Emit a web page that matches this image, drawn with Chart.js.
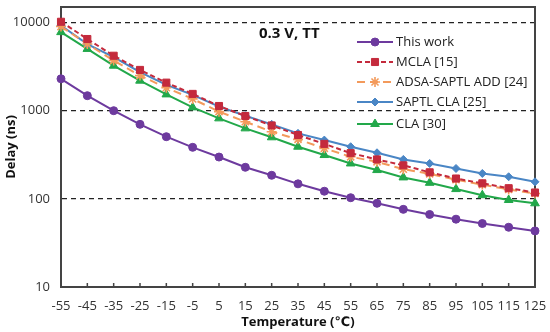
<!DOCTYPE html>
<html lang="en">
<head>
<meta charset="UTF-8">
<title>Delay vs Temperature</title>
<script src="https://cdn.jsdelivr.net/npm/chart.js"></script>
<style>
    html, body { margin: 0; padding: 0; background: #fff; }
    #wrap { width: 550px; height: 332px; }
</style>
</head>
<body>
<div id="wrap"><canvas id="delayChart" width="550" height="332"></canvas></div>
<script>
// temperature points (°C) and delay values (ns)
const temperatures = [-55, -45, -35, -25, -15, -5, 5, 15, 25, 35, 45, 55, 65, 75, 85, 95, 105, 115, 125];
const thisWork = [2300, 1480, 1000, 700, 507, 384, 298, 228, 185, 148, 122, 103, 89, 76, 66.5, 58.8, 52.5, 47.6, 43.3];
const mcla     = [10200, 6500, 4200, 2900, 2080, 1550, 1130, 870, 680, 530, 420, 330, 280, 240, 200, 170, 150, 132, 118];
const adsa     = [9000, 5700, 3700, 2500, 1820, 1360, 975, 750, 577, 473, 374, 300, 263, 217, 192, 165, 145, 128, 115];
const saptl    = [9250, 5690, 4050, 2730, 1960, 1510, 1110, 877, 700, 553, 464, 390, 333, 280, 252, 221, 194, 178, 156];
const cla      = [7780, 5020, 3240, 2190, 1530, 1090, 818, 630, 499, 390, 314, 252, 212, 175, 152, 129, 110, 97, 89];
const yTicks = [10, 100, 1000, 10000];
const chartTitle = '0.3 V, TT';

const FONT = "'Open Sans', 'DejaVu Sans', sans-serif";
const toPoints = arr => arr.map((v, i) => ({ x: temperatures[i], y: v }));

function series(label, values, color, style, radius, dash) {
    return {
        label: label,
        data: toPoints(values),
        borderColor: color,
        backgroundColor: color,
        borderWidth: 2,
        borderDash: dash,
        pointStyle: style,
        pointRadius: radius,
        pointBorderWidth: style === 'star' ? 1.6 : 1,
        pointBorderColor: color,
        pointBackgroundColor: color,
        tension: 0,
        clip: false
    };
}

const datasets = [
    series('This work', thisWork, '#6d3a9e', 'circle', 4, []),
    series('MCLA [15]', mcla, '#c42a3c', 'rect', 5, [5, 3]),
    series('ADSA-SAPTL ADD [24]', adsa, '#f39a5b', 'star', 5, [8, 5]),
    series('SAPTL CLA [25]', saptl, '#4a86c5', 'rectRot', 4, []),
    series('CLA [30]', cla, '#22a84a', 'triangle', 5, [])
];

// frame round the plot area + small inward tick marks on the x axis
const framePlugin = {
    id: 'frame',
    beforeDatasetsDraw(chart) {
        const { ctx, chartArea: a, scales } = chart;
        ctx.save();
        ctx.strokeStyle = '#444';
        ctx.lineWidth = 1.5;
        ctx.beginPath();
        temperatures.forEach(t => {
            const px = scales.x.getPixelForValue(t);
            ctx.moveTo(px, a.bottom);
            ctx.lineTo(px, a.bottom - 4);
        });
        ctx.stroke();
        ctx.lineWidth = 2;
        ctx.strokeRect(a.left, a.top, a.right - a.left, a.bottom - a.top);
        ctx.restore();
    }
};

// legend with line + marker, and the inner title
const legendRows = [42, 62, 82, 102, 124];
const legendPlugin = {
    id: 'innerLegend',
    afterDraw(chart) {
        const { ctx } = chart;
        ctx.save();
        ctx.font = 'bold 15px ' + FONT;
        ctx.fillStyle = '#111';
        ctx.textBaseline = 'middle';
        ctx.textAlign = 'left';
        ctx.fillText(chartTitle, 259, 34);

        const x0 = 357, x1 = 393;
        chart.data.datasets.forEach((ds, i) => {
            const y = legendRows[i];
            ctx.strokeStyle = ds.borderColor;
            ctx.lineWidth = 2;
            ctx.setLineDash(ds.borderDash || []);
            ctx.beginPath();
            ctx.moveTo(x0, y);
            ctx.lineTo(x1, y);
            ctx.stroke();
            ctx.setLineDash([]);
            ctx.fillStyle = ds.pointBackgroundColor;
            ctx.lineWidth = ds.pointBorderWidth;
            Chart.helpers.drawPoint(ctx, {
                pointStyle: ds.pointStyle,
                radius: ds.pointRadius,
                rotation: 0,
                borderWidth: ds.pointBorderWidth
            }, (x0 + x1) / 2, y);
            ctx.fillStyle = '#222';
            ctx.font = '13px ' + FONT;
            ctx.fillText(ds.label, x1 + 3, y);
        });
        ctx.restore();
    }
};

const ctx = document.getElementById('delayChart').getContext('2d');
const delayChart = new Chart(ctx, {
    type: 'line',
    data: { datasets: datasets },
    options: {
        responsive: false,
        animation: false,
        layout: { padding: { top: 7, right: 15, left: 0, bottom: 0 } },
        plugins: {
            legend: { display: false },
            tooltip: { enabled: false }
        },
        scales: {
            x: {
                type: 'linear',
                min: -55,
                max: 125,
                afterBuildTicks: scale => { scale.ticks = temperatures.map(v => ({ value: v })); },
                afterFit: scale => {
                    scale.height = 45;
                    scale.paddingLeft = 0;
                    scale.paddingRight = 0;
                },
                grid: { display: false, drawTicks: false },
                border: { display: true, color: '#444', width: 2 },
                ticks: {
                    padding: 11,
                    maxRotation: 0,
                    autoSkip: false,
                    color: '#333',
                    font: { family: FONT, size: 13 }
                },
                title: {
                    display: true,
                    text: 'Temperature (℃)',
                    color: '#111',
                    padding: { top: 0, bottom: 2 },
                    font: { family: FONT, size: 13, weight: 'bold' }
                }
            },
            y: {
                type: 'logarithmic',
                min: 10,
                max: 15000,
                afterBuildTicks: scale => { scale.ticks = yTicks.map(v => ({ value: v })); },
                afterFit: scale => {
                    scale.width = 61;
                    scale.paddingTop = 0;
                    scale.paddingBottom = 0;
                },
                grid: { color: '#222', lineWidth: 1.2, drawTicks: false },
                border: { display: true, color: '#444', width: 2, dash: [5, 4] },
                ticks: {
                    padding: 11,
                    color: '#333',
                    font: { family: FONT, size: 13 },
                    callback: v => String(v)
                },
                title: {
                    display: true,
                    text: 'Delay (ns)',
                    color: '#111',
                    padding: { top: 3, bottom: 0 },
                    font: { family: FONT, size: 13, weight: 'bold' }
                }
            }
        }
    },
    plugins: [framePlugin, legendPlugin]
});
</script>
</body>
</html>
